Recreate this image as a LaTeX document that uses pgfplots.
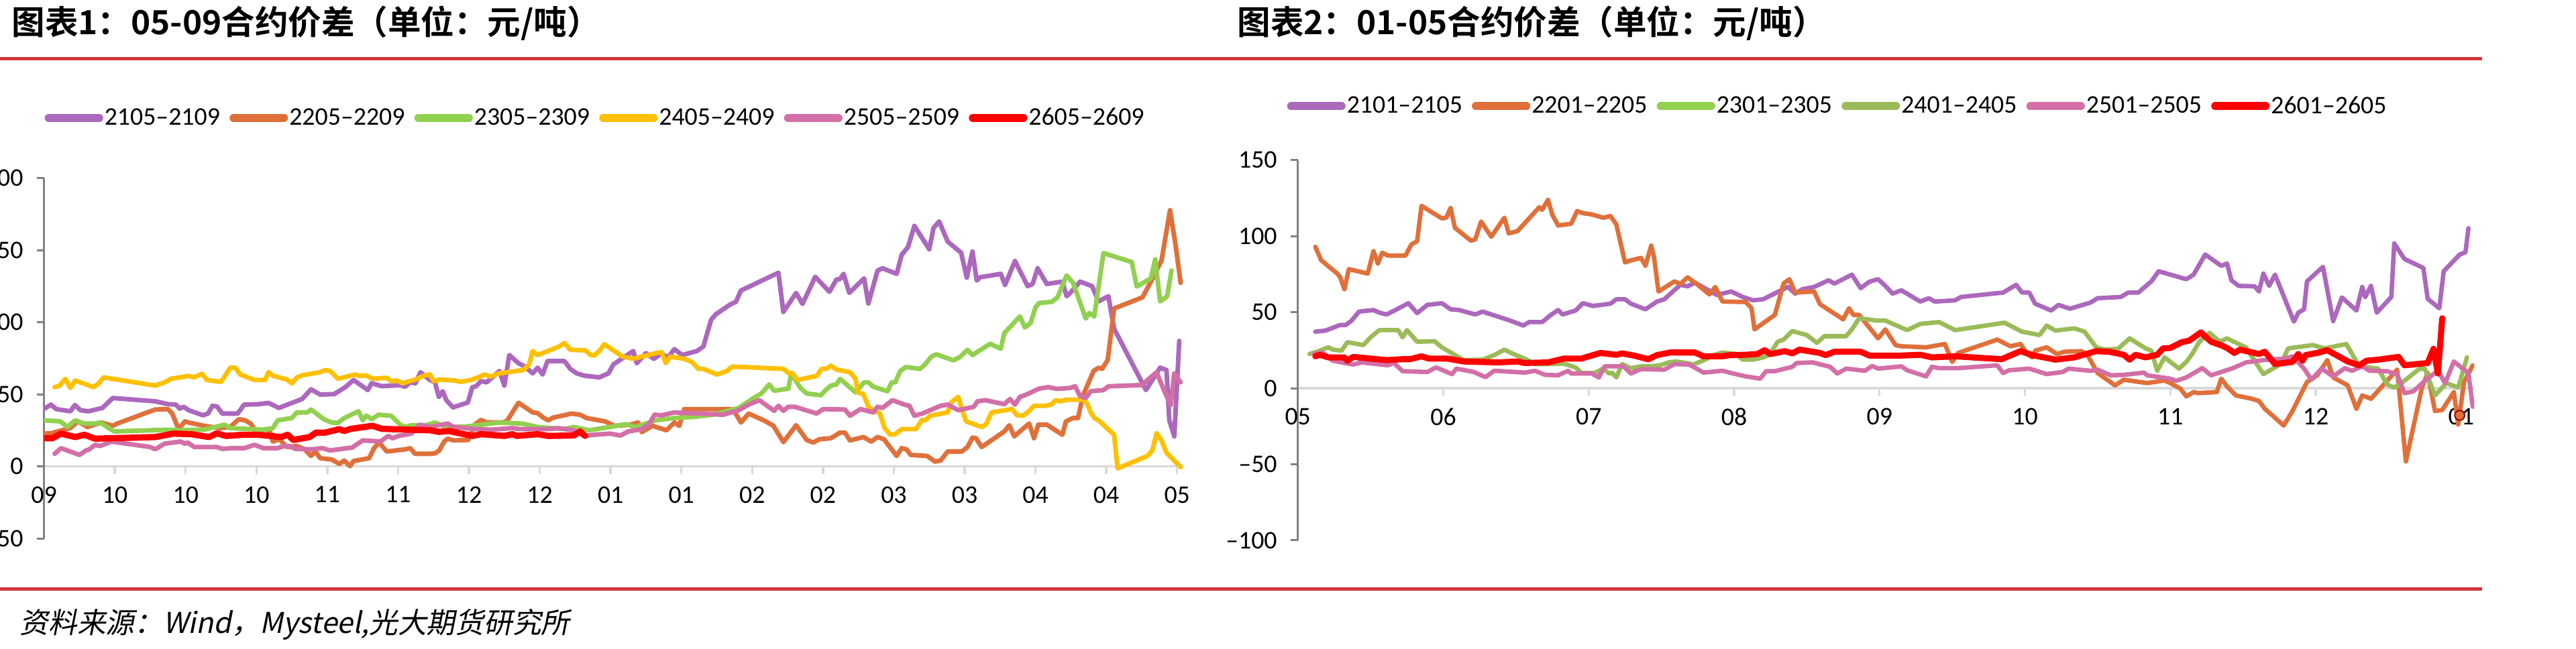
\documentclass[border=0pt]{standalone}
\usepackage{pgfplots}
\pgfplotsset{compat=1.18}
\usepackage{fontspec}
\setmainfont{Carlito}
\newfontfamily\cjkb{Noto Sans CJK SC Bold}
\newfontfamily\cjks[FakeSlant=0.2]{Noto Sans CJK SC}
\definecolor{cPur}{HTML}{AC68BD}
\definecolor{cOra}{HTML}{E0703A}
\definecolor{cGre}{HTML}{92D050}
\definecolor{cYel}{HTML}{FFC000}
\definecolor{cPin}{HTML}{D36FA7}
\definecolor{cRed}{HTML}{FF0000}
\definecolor{cOli}{HTML}{9BBB59}
\definecolor{cRule}{HTML}{D1373B}
\definecolor{cAx}{HTML}{808080}
\definecolor{cZero}{HTML}{D9D9D9}
\pgfplotsset{
  base/.style={
    scale only axis,
    axis x line=middle, axis y line=left,
    axis line style={-},
    x axis line style={draw=cZero, line width=1.4bp},
    y axis line style={draw=cAx, line width=1.2bp},
    tick align=outside, major tick length=4.5bp,
    x tick style={draw=cZero, line width=1.4bp},
    y tick style={draw=cAx, line width=1.2bp},
    hide obscured x ticks=false, hide obscured y ticks=false,
    ticklabel style={font=\fontsize{15.5}{16}\selectfont, inner sep=0pt},
    xticklabel style={yshift=-7.5bp},
    yticklabel style={xshift=-8bp},
    no markers,
    every axis plot/.append style={line join=round, line cap=round},
    legend cell align=left,
    legend image code/.code={\draw[##1, line width=4.8bp, line cap=round] (2.4bp,0) -- (33.2bp,0);},
    legend style={draw=none, fill=none, legend columns=6, inner sep=0pt, outer sep=0pt,
      font=\fontsize{15.5}{16}\selectfont,
      nodes={inner sep=0.8bp},
      /tikz/every even column/.append style={column sep=5bp}},
  }
}
\begin{document}
\begin{tikzpicture}[x=1bp,y=1bp]
\useasboundingbox (0,0) rectangle (1568,395);
\draw[line width=2bp, draw=cRule] (0,359.3) -- (1511,359.3);
\draw[line width=2bp, draw=cRule] (0,36.4) -- (1511,36.4);
\node[anchor=west, inner sep=0pt, font=\cjkb\fontsize{20.3}{21}\selectfont] at (7,381) {图表1：05-09合约价差（单位：元/吨）};
\node[anchor=west, inner sep=0pt, font=\cjkb\fontsize{20.3}{21}\selectfont] at (753,381) {图表2：01-05合约价差（单位：元/吨）};
\node[anchor=west, inner sep=0pt, font=\cjks\fontsize{17.5}{18}\selectfont] at (12,14.6) {资料来源：Wind，Mysteel,光大期货研究所};

\begin{axis}[base, at={(26.8bp,67bp)}, anchor=south west,
  width=694bp, height=219.5bp,
  xmin=0, xmax=16.1, ymin=-50, ymax=200,
  xtick={0,...,16}, xticklabels={09,10,10,10,11,11,12,12,01,01,02,02,03,03,04,04,05},
  ytick={-50,0,50,100,150,200}, yticklabels={--50,0,50,100,150,200},
  legend style={at={(0.0006,1.1672)}, anchor=west},
]
\addplot[cPur, line width=2.8bp] coordinates {(0.007,40.1)(0.098,42.9)(0.171,39.8)(0.371,38.3)(0.436,42.6)(0.516,39)(0.625,38.3)(0.825,40.6)(0.971,47.5)(1.571,45.2)(1.753,43.2)(1.862,42.9)(1.916,40.1)(1.971,41.4)(2.044,39)(2.244,35.5)(2.316,36.7)(2.378,42.1)(2.444,41.6)(2.516,36.7)(2.735,36.7)(2.825,42.9)(3.025,43.2)(3.171,44.1)(3.316,40.6)(3.644,46.8)(3.771,53.5)(3.898,49.9)(4.098,50.2)(4.262,55.3)(4.371,60)(4.571,53)(4.625,57.7)(4.771,55.7)(5.025,56.4)(5.098,55.3)(5.171,58.4)(5.244,57.7)(5.316,65.4)(5.448,60)(5.52,58.4)(5.575,48.3)(5.63,52.2)(5.68,46)(5.775,41)(5.985,44.4)(6.047,55)(6.10,55.6)(6.17,59.2)(6.25,58.4)(6.43,66.2)(6.50,56.1)(6.57,77.3)(6.70,71.6)(6.79,69.3)(6.90,64.6)(6.97,68.5)(7.04,63.8)(7.11,73.1)(7.35,73.1)(7.43,67.7)(7.52,64.6)(7.63,63)(7.84,61.8)(7.97,64.6)(8.04,70.8)(8.32,80.1)(8.37,71.6)(8.50,78.6)(8.61,74.7)(8.72,78.3)(8.81,75.5)(8.90,81.4)(9.01,77.3)(9.22,80.1)(9.31,83.2)(9.42,101.8)(9.49,105.7)(9.69,112.4)(9.77,114.2)(9.84,122)(10.37,134.4)(10.44,107.2)(10.62,120.4)(10.71,112.7)(10.89,131.6)(11.09,121.2)(11.19,129.7)(11.24,130)(11.29,133.6)(11.37,120.4)(11.58,130.5)(11.64,113)(11.77,135.9)(11.84,137.5)(12.04,133.6)(12.11,146.8)(12.20,152.2)(12.29,166.9)(12.50,150.7)(12.56,165.4)(12.64,170)(12.76,156)(12.95,148.3)(13.03,131)(13.11,149.1)(13.17,129)(13.22,131.3)(13.51,133.6)(13.57,125.9)(13.71,142.5)(13.89,125.1)(13.96,126.6)(14.03,137.5)(14.16,126.6)(14.38,128.2)(14.44,118.1)(14.49,120.4)(14.63,128.2)(14.80,125.1)(14.89,114.5)(15.03,118.1)(15.11,95.6)(15.56,53)(15.76,68.5)(15.85,66.9)(15.89,32)(15.96,20.9)(16.03,87.1)};
\addlegendentry{2105--2109}
\addplot[cOra, line width=2.8bp] coordinates {(0,23)(0.08,22.8)(0.19,24.3)(0.37,26.6)(0.48,31.3)(0.61,27.4)(0.81,30.5)(0.97,28.2)(1.03,29.7)(1.57,39.5)(1.75,39.8)(1.81,36.7)(1.90,25.9)(1.99,31.3)(2.04,30.5)(2.26,28.2)(2.48,26.6)(2.63,27.4)(2.75,32.8)(2.84,32)(2.92,29.7)(2.99,24.3)(3.14,25.9)(3.19,24.3)(3.23,17.3)(3.32,18.9)(3.43,13.5)(3.57,14.2)(3.68,11.9)(3.77,7.3)(3.83,10.4)(3.90,5.7)(4.06,4.9)(4.17,1.8)(4.24,4.1)(4.32,0.2)(4.37,3.8)(4.59,5.7)(4.66,12.7)(4.73,16.6)(4.84,10.4)(5.10,11.9)(5.17,12.7)(5.24,8.8)(5.45,8.8)(5.52,9.1)(5.58,11.1)(5.65,17.3)(5.70,19.3)(5.78,18.1)(5.99,18.4)(6.08,29)(6.17,32.3)(6.25,30.5)(6.48,30.5)(6.54,31.8)(6.70,44.2)(6.90,37.5)(6.97,37)(7.05,33.9)(7.12,32)(7.19,33.9)(7.45,36.7)(7.57,35.9)(7.66,33.6)(7.92,31.3)(8.06,28.2)(8.28,29)(8.39,30.5)(8.44,23.8)(8.59,28.2)(8.79,25.1)(8.90,30.5)(8.97,28.2)(9.04,39.8)(9.73,39.8)(9.84,30.5)(9.95,36.7)(10.17,31.8)(10.30,28.2)(10.44,16.9)(10.62,28.6)(10.77,18.4)(10.86,16.6)(10.95,18.9)(11.11,19.6)(11.24,23.5)(11.31,23.5)(11.38,18.1)(11.57,20.4)(11.68,17.3)(11.77,20.4)(11.86,18.9)(12.04,7.3)(12.11,12.7)(12.18,11.9)(12.24,8.0)(12.47,7.3)(12.58,3.4)(12.66,4.1)(12.76,10.4)(12.96,10.4)(13.04,13.5)(13.11,20)(13.16,19.6)(13.24,13.5)(13.56,24.3)(13.63,28.6)(13.70,20.9)(13.91,29.8)(13.98,19.6)(14.04,29)(14.16,29)(14.38,22)(14.43,31.3)(14.53,33.6)(14.60,33.6)(14.67,49.1)(14.82,66.2)(14.89,68.5)(14.94,67.7)(15.02,73.9)(15.11,109.6)(15.51,117.3)(15.63,128.2)(15.78,142.9)(15.90,177.8)(15.98,153)(16.05,127.4)};
\addlegendentry{2205--2209}
\addplot[cGre, line width=2.8bp] coordinates {(0,32)(0.23,31.3)(0.33,27.4)(0.44,32)(0.57,29.7)(0.73,29.7)(0.79,30.5)(0.99,24.3)(1.75,25.5)(1.93,25.1)(2.26,25.5)(2.55,29)(2.63,26.6)(3.10,25.5)(3.23,26.6)(3.30,32)(3.50,33.6)(3.57,37.5)(3.72,37.5)(3.77,39.5)(3.95,32.8)(4.06,30.5)(4.15,30.2)(4.24,33.6)(4.44,38.3)(4.50,32)(4.55,35.2)(4.63,32.8)(4.72,35.9)(4.90,35.2)(5.03,29)(5.10,27.4)(5.19,28.6)(5.39,28.6)(5.52,30.5)(5.67,27.4)(5.96,27.7)(6.43,30.5)(6.76,29.7)(6.97,27.4)(7.34,25.9)(7.48,27.4)(7.70,25.1)(7.99,27.4)(8.21,29.3)(8.35,27.4)(8.64,32)(8.90,33.6)(9.19,34.4)(9.44,35.9)(9.81,40.6)(10.02,47.5)(10.13,50.6)(10.24,56.9)(10.31,52.5)(10.51,54)(10.55,64.6)(10.68,54.5)(10.77,50.6)(10.97,49.4)(11.02,52.2)(11.11,56.1)(11.19,56.9)(11.24,60.8)(11.46,51.4)(11.58,58.4)(11.64,58.4)(11.71,55.3)(11.91,52.2)(11.97,58.4)(12.02,58.4)(12.09,66.2)(12.17,69)(12.37,67.7)(12.44,70.8)(12.53,76.2)(12.60,77.8)(12.84,73.6)(12.93,75.8)(13.04,80.9)(13.11,77.3)(13.36,85.1)(13.51,81.7)(13.56,92.5)(13.78,104.1)(13.85,96.4)(13.93,99.5)(14.00,110.3)(14.05,113.4)(14.23,114.2)(14.31,117.3)(14.44,132.5)(14.53,127.4)(14.71,102.6)(14.76,106.5)(14.83,104.1)(14.96,148)(15.36,141.8)(15.43,124.8)(15.63,130.5)(15.69,143.7)(15.76,114.5)(15.86,118.1)(15.92,135.9)};
\addlegendentry{2305--2309}
\addplot[cYel, line width=2.8bp] coordinates {(0.15,55)(0.22,56.1)(0.30,60.8)(0.37,54.5)(0.44,59.6)(0.70,55)(0.77,57.6)(0.84,61.8)(1.57,56.1)(1.72,58.7)(1.79,60.8)(2.04,62.8)(2.12,61.8)(2.23,64.3)(2.30,60)(2.50,58.7)(2.63,68.5)(2.70,68.5)(2.77,63.8)(2.97,60)(3.12,60)(3.17,65.4)(3.24,62.8)(3.43,60.3)(3.50,57.7)(3.57,61.8)(3.66,63.4)(3.90,65.4)(3.97,66.9)(4.04,66.2)(4.15,60.8)(4.39,63.8)(4.46,62.8)(4.55,63.1)(4.64,60.8)(4.84,61.5)(4.90,59.2)(4.99,59.6)(5.06,57.7)(5.24,60.3)(5.39,63.4)(5.45,63.8)(5.50,59.2)(5.59,60.3)(5.81,59.6)(5.88,58.7)(6.03,60)(6.23,63.8)(6.30,62.3)(6.43,64.6)(6.77,66.9)(6.85,70.8)(6.90,80.1)(6.97,77.3)(7.26,82.9)(7.35,85.6)(7.43,80.9)(7.64,80.6)(7.72,77.3)(7.77,77)(7.84,80.1)(7.91,84.8)(8.17,76.2)(8.32,74.7)(8.64,78.6)(8.72,79.3)(8.78,71.6)(8.84,76.2)(9.04,74.7)(9.15,72.4)(9.24,67.7)(9.31,67.7)(9.50,63.8)(9.64,66.2)(9.72,69.3)(10.44,67.7)(10.51,64.9)(10.57,64.6)(10.64,60)(10.91,62.8)(10.98,67.7)(11.06,68)(11.11,70)(11.19,67.2)(11.38,65.4)(11.46,60.8)(11.49,51.4)(11.57,50.2)(11.64,41.4)(11.71,39)(11.80,37)(11.87,26.6)(11.95,22)(12.02,22.4)(12.11,25.9)(12.31,25.9)(12.40,32.4)(12.45,32)(12.51,35.2)(12.76,37.5)(12.81,44.5)(12.91,48.3)(12.96,39.8)(13.02,31.3)(13.24,27.4)(13.30,29)(13.38,37.5)(13.67,39.8)(13.74,35.5)(13.82,35.2)(13.89,37.5)(13.98,42.1)(14.14,42.1)(14.22,42.9)(14.29,46)(14.36,45.2)(14.43,46.3)(14.67,46.3)(14.73,43.7)(14.78,37.5)(14.83,33.6)(14.89,32)(15.11,22)(15.16,-1.3)(15.58,7.3)(15.65,11.1)(15.71,23)(15.78,18.1)(15.85,9.5)(16.05,-0.5)};
\addlegendentry{2405--2409}
\addplot[cPin, line width=2.8bp] coordinates {(0.15,8.8)(0.24,12.7)(0.50,8)(0.59,11.1)(0.64,11.9)(0.72,15)(0.79,14.2)(0.95,17.3)(1.50,13.5)(1.57,11.9)(1.70,15.8)(1.93,17.3)(1.99,15.8)(2.03,16.6)(2.12,13.5)(2.44,13.5)(2.52,12.2)(2.66,12.7)(2.83,12.7)(2.97,15)(3.10,12.7)(3.30,12.7)(3.39,14.2)(3.46,14.2)(3.55,12.2)(3.79,11.9)(3.93,12.7)(4.04,11.1)(4.28,12.7)(4.35,13.1)(4.50,18.1)(4.75,17.3)(4.86,21.2)(4.92,19.6)(5.01,21.2)(5.19,22.8)(5.30,29)(5.45,27.4)(5.70,29.8)(5.78,27.4)(6.10,25.9)(6.32,25.5)(6.61,26.6)(6.72,25.9)(7.12,25.9)(7.26,26.6)(7.48,25.1)(7.63,21.2)(7.77,22)(7.99,22.8)(8.14,21.5)(8.25,24.3)(8.44,25.9)(8.55,29.8)(8.62,35.9)(8.72,35.5)(8.90,37.5)(9.59,35.9)(9.81,39)(9.95,42.9)(10.10,46)(10.31,38.6)(10.37,42.1)(10.44,38.6)(10.51,41.4)(10.60,41.4)(10.86,37.5)(10.91,36.7)(11.00,39.8)(11.31,39.5)(11.38,35.2)(11.53,39.8)(11.71,37.5)(11.77,41.4)(11.84,40.6)(11.98,46)(12.17,42.6)(12.22,42.1)(12.29,35.2)(12.40,36.7)(12.66,42.1)(12.76,42.9)(12.91,39)(13.13,41.4)(13.18,45.2)(13.29,46)(13.56,43.2)(13.64,46.8)(13.71,42.9)(13.78,48.3)(13.85,49.4)(14.05,54)(14.18,55)(14.31,53.8)(14.49,54.5)(14.56,55.6)(14.63,48.8)(14.71,47.5)(14.78,52.2)(14.96,53)(15.03,55.6)(15.51,56.5)(15.58,59.9)(15.71,65.4)(15.82,52.2)(15.91,42.6)(15.96,64.6)(16.05,58.4)};
\addlegendentry{2505--2509}
\addplot[cRed, line width=3.8bp] coordinates {(0,19.6)(0.12,19.6)(0.24,22.8)(0.44,20.4)(0.57,22)(0.72,19.3)(1.57,20.4)(1.83,22.8)(2.08,22.4)(2.33,20.4)(2.44,23)(2.57,21.2)(2.81,22)(3.03,22)(3.35,20.4)(3.44,22)(3.52,18.4)(3.75,20.4)(3.84,23.5)(3.97,23.5)(4.17,25.9)(4.24,24.6)(4.33,26.1)(4.64,28.2)(4.77,26.1)(5.17,25.5)(5.45,25.1)(5.58,24)(5.72,24.6)(5.87,23)(6.05,21.2)(6.17,22.4)(6.50,21.2)(6.61,22.4)(6.68,21.2)(6.97,22.4)(7.12,21.2)(7.48,21.5)(7.57,24.3)(7.64,21.2)};
\addlegendentry{2605--2609}
\end{axis}

\begin{axis}[base, at={(790bp,65.9bp)}, anchor=south west,
  width=716bp, height=231.6bp,
  xmin=0, xmax=8.09, ymin=-100, ymax=150,
  xtick={0,...,8}, xticklabels={05,06,07,08,09,10,11,12,01},
  ytick={-100,-50,0,50,100,150}, yticklabels={--100,--50,0,50,100,150},
  legend style={at={(-0.0092,1.142)}, anchor=west},
]
\addplot[cPur, line width=2.7bp] coordinates {(0.12,37.2)(0.19,37.9)(0.29,41.6)(0.33,41.6)(0.37,44.5)(0.42,50.4)(0.52,51.4)(0.56,49.7)(0.61,48.5)(0.65,50.4)(0.76,55.9)(0.82,49.4)(0.89,54.8)(0.99,55.9)(1.05,51.9)(1.11,51.4)(1.22,48.5)(1.27,50.4)(1.46,44.5)(1.55,41.2)(1.59,43.5)(1.68,43.5)(1.74,48.2)(1.79,51.4)(1.82,48.5)(1.91,51.1)(1.96,55.9)(2.03,54.1)(2.15,55.6)(2.19,58.5)(2.25,58.5)(2.29,55.6)(2.39,51.9)(2.47,57)(2.52,58.5)(2.63,68)(2.68,67)(2.73,69.5)(2.88,61.4)(2.98,63.6)(3.06,60)(3.13,57.8)(3.20,58.5)(3.37,66.6)(3.42,62.2)(3.47,65.1)(3.55,66.6)(3.65,71)(3.69,68.8)(3.81,74.7)(3.87,65.8)(3.93,70)(3.99,71.7)(4.04,67.3)(4.09,62.2)(4.15,64.4)(4.28,57)(4.34,59.2)(4.38,57)(4.52,57.8)(4.56,60)(4.85,62.9)(4.94,68)(4.98,62.9)(5.03,62.9)(5.07,55.6)(5.18,51.1)(5.23,54.8)(5.31,52.3)(5.45,56.3)(5.50,59.2)(5.66,60)(5.71,62.9)(5.78,62.9)(5.87,70.3)(5.92,76.9)(6.11,71.7)(6.16,74.7)(6.24,87.9)(6.35,80.5)(6.39,82)(6.42,71)(6.47,67.3)(6.58,67)(6.61,63.6)(6.64,75.4)(6.68,67.3)(6.72,74.7)(6.85,43.8)(6.88,49.7)(6.92,51.9)(6.94,70.3)(7.05,79.8)(7.12,44.1)(7.18,59.7)(7.28,51.1)(7.32,66.6)(7.34,60)(7.38,67.3)(7.42,49.7)(7.52,60)(7.54,95.2)(7.61,85)(7.74,79.1)(7.77,58.8)(7.85,52.6)(7.88,76.9)(7.99,87.9)(8.03,89.4)(8.05,105.2)};
\addlegendentry{2101--2105}
\addplot[cOra, line width=2.7bp] coordinates {(0.12,93)(0.16,84.2)(0.27,75.4)(0.29,73.2)(0.32,65.1)(0.35,78.3)(0.48,75.4)(0.52,90.1)(0.55,82)(0.58,89.1)(0.62,87.2)(0.74,87.2)(0.78,94.5)(0.82,96.7)(0.85,119.9)(0.99,111.7)(1.02,112.1)(1.05,118.5)(1.08,105.5)(1.19,97)(1.22,97.9)(1.26,109.6)(1.33,99.6)(1.42,112.1)(1.45,101.8)(1.51,103.3)(1.66,119)(1.68,117.3)(1.72,123.9)(1.75,114)(1.79,107)(1.88,108.2)(1.92,116.5)(1.96,115.1)(2.02,114.3)(2.10,112.1)(2.15,113.2)(2.19,107.7)(2.25,82.7)(2.28,83.8)(2.36,85.7)(2.39,80.5)(2.43,93.8)(2.45,85.7)(2.48,63.6)(2.59,70.3)(2.63,68.5)(2.68,72.9)(2.75,68)(2.83,61.7)(2.87,66.6)(2.92,57)(3.08,56.7)(3.12,52.6)(3.14,38.7)(3.28,48.2)(3.34,68.8)(3.38,71.7)(3.42,62.9)(3.55,63.6)(3.59,55.3)(3.75,45.3)(3.79,52.6)(3.82,48.2)(3.86,48.2)(3.99,32.8)(4.04,38.7)(4.11,28.4)(4.15,27.6)(4.32,26.9)(4.45,29.1)(4.50,17.3)(4.54,23.2)(4.81,32)(4.90,27.6)(4.97,29.1)(5.01,23.2)(5.05,20.3)(5.07,24.7)(5.15,26.9)(5.22,22.5)(5.27,24)(5.39,24.4)(5.43,21.8)(5.50,10)(5.62,1.9)(5.68,5.6)(5.84,3.4)(5.96,5.1)(6.00,3.4)(6.07,-0.3)(6.11,-5.4)(6.16,-2.5)(6.19,-3.2)(6.32,-2.5)(6.35,6.3)(6.39,1.2)(6.45,-4.7)(6.56,-6.9)(6.61,-8.4)(6.65,-13.5)(6.72,-19.4)(6.78,-24.5)(6.84,-15)(6.94,4.1)(7.01,8.5)(7.08,18.5)(7.12,7.1)(7.22,1.9)(7.28,-13.5)(7.32,-4.7)(7.38,-6.9)(7.56,12.2)(7.62,-48.1)(7.73,0.4)(7.77,10)(7.82,-15)(7.87,-14.3)(7.95,-2.5)(7.98,-23.8)(8.02,4.1)(8.08,15.1)};
\addlegendentry{2201--2205}
\addlegendimage{cGre, line width=2.7bp}
\addlegendentry{2301--2305}
\addplot[cOli, line width=2.7bp] coordinates {(0.08,22.5)(0.13,24)(0.21,26.9)(0.24,25.4)(0.30,24.7)(0.34,30.3)(0.45,28.4)(0.50,33.5)(0.56,38.2)(0.69,38.2)(0.72,33.5)(0.75,38.2)(0.82,30.6)(0.94,30.9)(0.99,26.9)(1.14,18.5)(1.27,18.8)(1.35,21.8)(1.42,25.4)(1.46,23.5)(1.50,21.8)(1.56,19.5)(1.63,15.9)(1.70,15.9)(1.83,16.2)(1.91,13.7)(1.95,10)(2.04,10)(2.10,12.9)(2.14,9.7)(2.16,10.3)(2.19,7.1)(2.23,15.9)(2.29,13.2)(2.36,14.4)(2.43,14.4)(2.49,15.1)(2.55,17)(2.60,17.6)(2.67,16.6)(2.72,15.6)(2.80,18.8)(2.86,21.8)(2.92,23.5)(3.01,22.5)(3.06,18.8)(3.13,18.8)(3.20,20.3)(3.24,21.8)(3.30,30.6)(3.34,32)(3.40,37.6)(3.50,35)(3.57,29.8)(3.62,34.2)(3.77,34.2)(3.81,38.7)(3.86,46)(3.98,44.5)(4.04,44.5)(4.19,38.2)(4.28,42.3)(4.41,43.5)(4.52,38.2)(4.86,43.1)(4.98,37.2)(5.10,35)(5.15,41.2)(5.21,37.9)(5.34,39.4)(5.41,37.2)(5.49,26.9)(5.55,25.4)(5.64,25.9)(5.72,32.8)(5.83,26.2)(5.87,24.7)(5.91,11.5)(5.96,20.3)(6.06,12.9)(6.11,17.3)(6.15,22.5)(6.20,30.6)(6.27,36.4)(6.34,30.6)(6.39,32.8)(6.43,30.9)(6.52,26.9)(6.64,9.3)(6.76,15.9)(6.81,26.2)(6.98,28.4)(7.06,26.2)(7.21,29.1)(7.30,14.4)(7.43,12.9)(7.49,2.6)(7.54,0.4)(7.61,4.9)(7.71,12.6)(7.75,12.9)(7.82,-4.7)(7.90,3.4)(7.98,0.4)(8.04,20.3)};
\addlegendentry{2401--2405}
\addplot[cPin, line width=2.7bp] coordinates {(0.11,22.5)(0.17,23.5)(0.24,18.1)(0.38,15.6)(0.44,17)(0.62,15.1)(0.66,16.6)(0.72,11.2)(0.89,10.7)(0.95,13.7)(1.06,9.3)(1.09,12.9)(1.21,10.7)(1.29,7.3)(1.35,11.5)(1.56,10.3)(1.63,11.5)(1.70,8.8)(1.79,8.5)(1.83,10.3)(1.86,11.5)(1.88,9.7)(2.02,9.7)(2.07,7.1)(2.11,14.4)(2.24,14.4)(2.29,9.7)(2.36,12.6)(2.52,12.2)(2.59,15.9)(2.69,15.6)(2.79,10.3)(2.92,11.5)(2.98,10)(3.08,7.8)(3.18,6.3)(3.22,11.2)(3.28,11.2)(3.40,14.1)(3.43,16.6)(3.54,17)(3.66,14.1)(3.71,9.7)(3.77,12.9)(3.90,11.5)(3.95,14.7)(3.99,12.9)(4.15,14.4)(4.19,11.8)(4.32,7.8)(4.36,14.1)(4.41,13.2)(4.54,13.2)(4.81,15.1)(4.85,10)(4.89,11.8)(5.03,12.9)(5.15,9.3)(5.26,10.7)(5.30,12.9)(5.45,11.5)(5.50,12.2)(5.59,8.5)(5.68,8.8)(5.82,10.3)(5.84,8.5)(6.00,6.3)(6.04,4.9)(6.11,7.1)(6.22,13.2)(6.28,8.5)(6.43,13.2)(6.52,17)(6.64,18.5)(6.79,19.5)(6.84,21)(6.92,12.9)(6.97,5.6)(7.04,12.9)(7.12,7.8)(7.20,13.2)(7.25,11.5)(7.32,14.4)(7.37,11.5)(7.49,11.2)(7.56,9.3)(7.61,-3.2)(7.67,-2.1)(7.76,5.6)(7.84,11.5)(7.89,3.4)(7.95,17.6)(8.05,10)(8.08,-12.1)};
\addlegendentry{2501--2505}
\addplot[cRed, line width=3.7bp] coordinates {(0.12,21)(0.15,22)(0.21,20.3)(0.32,20.3)(0.34,18.1)(0.38,20.6)(0.61,18.5)(0.72,19.1)(0.77,19.1)(0.85,21)(0.90,19.5)(1.03,19.5)(1.14,17.6)(1.38,17)(1.51,17.6)(1.56,16.6)(1.72,17)(1.83,19.5)(1.95,19.5)(2.08,23.2)(2.19,22)(2.23,22.9)(2.31,21.5)(2.41,19.1)(2.47,21.8)(2.56,23.5)(2.73,23.5)(2.79,21)(2.92,21)(2.97,21.8)(3.08,22)(3.16,22.5)(3.21,25)(3.25,22.5)(3.35,24.4)(3.40,22.9)(3.45,25.4)(3.59,23.2)(3.63,21.8)(3.69,24)(3.87,24)(3.93,21.5)(4.15,21.5)(4.28,22)(4.36,20.3)(4.52,21)(4.84,19.1)(4.97,24.4)(5.05,21.8)(5.21,18.8)(5.34,20.3)(5.49,24.4)(5.58,24)(5.68,22)(5.72,18.8)(5.76,22)(5.83,20.3)(5.91,22)(5.95,26.2)(6.00,26.5)(6.08,30.3)(6.13,31.3)(6.21,36.7)(6.28,30.6)(6.36,27.9)(6.40,25.9)(6.44,23.2)(6.48,25.4)(6.61,22.5)(6.65,24)(6.72,15.9)(6.84,17.3)(6.88,22.5)(6.91,18.1)(6.93,21.8)(7.01,23.2)(7.08,25)(7.17,20.3)(7.22,17.6)(7.30,15.1)(7.35,18.1)(7.43,18.8)(7.57,20.6)(7.61,15.1)(7.77,16.6)(7.81,25.9)(7.84,9.7)(7.87,46)};
\addlegendentry{2601--2605}
\addplot[only marks, mark=*, mark size=3bp, mark options={fill=cOra, draw=red!60!black, line width=0.8bp}, forget plot] coordinates {(7.99,-17.8)};
\end{axis}
\end{tikzpicture}
\end{document}
